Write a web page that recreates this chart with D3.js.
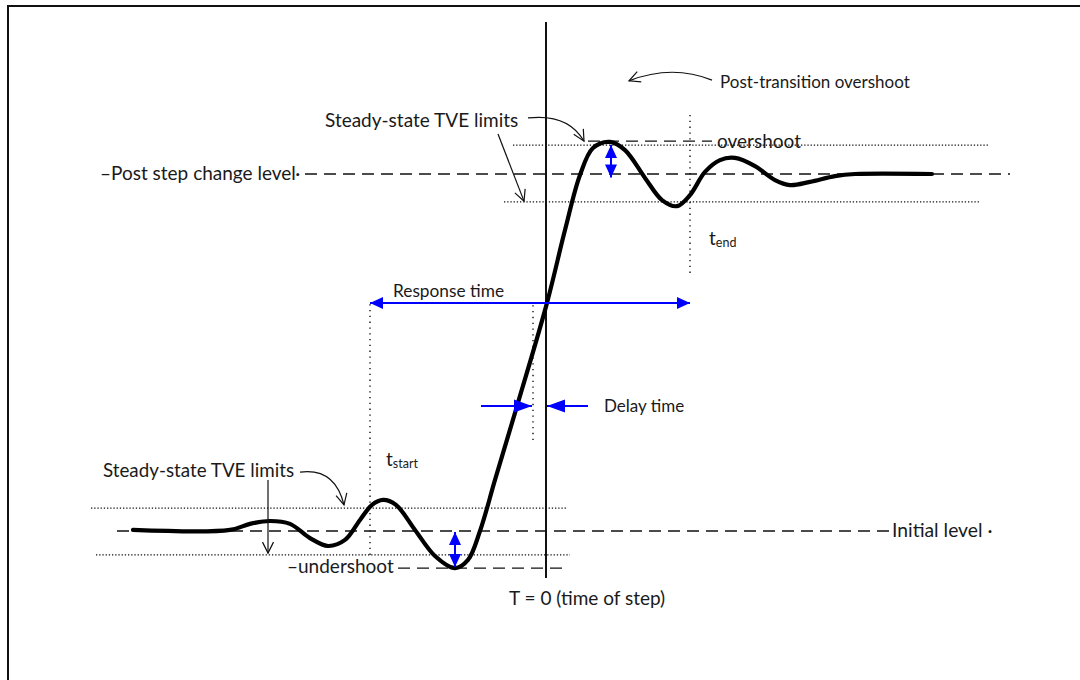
<!DOCTYPE html>
<html>
<head>
<meta charset="utf-8">
<script src="https://cdn.jsdelivr.net/npm/d3@7"></script>
<style>
  body { margin: 0; background: #fff; }
  text { font-family: Lato, "Open Sans", sans-serif; fill: #1a1a1a; }
</style>
</head>
<body>
<svg id="chart" width="1080" height="680"></svg>
<script>
// step response, time in arbitrary units (T = 0 at the step), level 0 = initial, 1 = post step
const curveT = [-20.65, -15.8, -14.8, -13.8, -12.8, -11.8, -10.9, -10.05, -9.3, -8.7, -8.15, -7.5, -6.55,
  -5.55, -4.55, -3.9, -3.3, -2.55, -1.45, 0.05, 0.95, 1.7, 2.35, 3.2, 3.95, 4.95, 5.8, 6.55, 7.2, 7.95,
  8.7, 9.45, 10.45, 11.45, 12.2, 13.2, 14.45, 15.45, 19.3];
const curveV = [0.003, 0.003, 0.02, 0.028, 0.02, -0.02, -0.042, -0.025, 0.031, 0.073, 0.087, 0.073, 0.003,
  -0.07, -0.104, -0.081, 0, 0.143, 0.35, 0.639, 0.843, 0.997, 1.073, 1.09, 1.067, 0.989, 0.927, 0.91, 0.941, 1.006,
  1.039, 1.045, 1.022, 0.983, 0.969, 0.978, 0.994, 1.0, 1.0];

// horizontal reference levels
const levelNames = ["post", "upperHi", "upperLo", "overshoot", "initial", "lowerHi", "lowerLo", "undershoot"];
const levelValues = [1, 1.081, 0.922, 1.092, 0, 0.064, -0.067, -0.104];
const levelFrom = [-12.05, -1.65, -2.1, 2.1, -21.45, -22.75, -22.5, -7.4];
const levelTo = [23.2, 22.1, 21.7, 8.3, 17.2, 1.0, 1.2, 0.95];

// vertical time markers
const markerNames = ["step", "tStart", "tEnd", "delay"];
const markerT = [0, -8.8, 7.2, -0.65];
const markerFrom = [-0.132, -0.067, 0.723, 0.255];
const markerTo = [1.426, 0.647, 1.174, 0.639];

// blue measurement arrows: [t, v] start and end
const spanNames = ["response", "delayLeft", "delayRight", "overshoot", "undershoot"];
const spanStart = [[-8.8, 0.639], [-3.25, 0.35], [2.1, 0.35], [3.25, 1.081], [-4.55, -0.003]];
const spanEnd = [[7.2, 0.639], [-0.7, 0.35], [0.05, 0.35], [3.25, 0.99], [-4.55, -0.101]];
const spanBoth = [true, false, false, true, true];

// black pointer arrows: start, control (null = straight), end
const pointerStart = [[8.3, 1.263], [-0.9, 1.157], [-2.4, 1.112], [-12.3, 0.165], [-13.9, 0.143]];
const pointerCtrl = [[6.3, 1.308], [1.1, 1.17], null, [-10.55, 0.178], null];
const pointerEnd = [[4.15, 1.261], [1.9, 1.092], [-1.1, 0.924], [-10.1, 0.073], [-13.9, -0.062]];

// labels
const labelTexts = ["Post-transition overshoot", "Steady-state TVE limits", "overshoot", "\u2013Post step change level\u00b7",
  "Response time", "Delay time", "Steady-state TVE limits", "\u2013undershoot", "Initial level \u00b7", "T = 0 (time of step)"];
const labelT = [8.7, -11.05, 8.55, -22.3, -7.65, 2.9, -22.15, -12.95, 17.3, -1.85];
const labelV = [1.241, 1.132, 1.073, 0.983, 0.655, 0.333, 0.151, -0.118, -0.017, -0.207];

const subLabels = ["end", "start"];
const subT = [8.15, -8.0];
const subV = [0.801, 0.182];

const W = 1080, H = 680;
const labelSizes = [17, 19, 19, 19, 17.3, 17, 18.8, 19, 19.3, 19];
const svg = d3.select("#chart");

const x = d3.scaleLinear().domain([-27, 27]).range([6, 1086]);
const y = d3.scaleLinear().domain([0, 1]).range([531, 174]);

const blue = "#0000ff";
const defs = svg.append("defs");
function blueMarker(id, len, half) {
  defs.append("marker").attr("id", id)
    .attr("viewBox", `${-len - 1} ${-half - 1} ${len + 2} ${2 * half + 2}`)
    .attr("refX", 0).attr("refY", 0)
    .attr("markerUnits", "userSpaceOnUse")
    .attr("markerWidth", len + 2).attr("markerHeight", 2 * half + 2)
    .attr("orient", "auto-start-reverse")
    .append("path").attr("d", `M${-len},${-half}L0,0L${-len},${half}Z`).attr("fill", blue);
}
blueMarker("blueHead", 13, 6);
blueMarker("blueBig", 18, 6.5);

defs.append("marker").attr("id", "blackHead")
  .attr("viewBox", "-13 -7 15 14").attr("refX", 0).attr("refY", 0)
  .attr("markerUnits", "userSpaceOnUse").attr("markerWidth", 15).attr("markerHeight", 14)
  .attr("orient", "auto")
  .append("path").attr("d", "M-11,-5.5L0,0L-11,5.5").attr("fill", "none").attr("stroke", "#111").attr("stroke-width", 1.2);

// frame
svg.append("path").attr("d", `M8,${H}V6H${W}`).attr("fill", "none").attr("stroke", "#111").attr("stroke-width", 2);

// reference levels
const dashed = new Set(["post", "overshoot", "initial", "undershoot"]);
levelNames.forEach((name, i) => {
  svg.append("line")
    .attr("x1", x(levelFrom[i])).attr("x2", x(levelTo[i]))
    .attr("y1", y(levelValues[i])).attr("y2", y(levelValues[i]))
    .attr("stroke", "#111")
    .attr("stroke-width", dashed.has(name) ? 1.3 : 1.4)
    .attr("stroke-dasharray", dashed.has(name) ? "12,7" : "1.3,1.9");
});

// vertical markers
markerNames.forEach((name, i) => {
  svg.append("line")
    .attr("x1", x(markerT[i])).attr("x2", x(markerT[i]))
    .attr("y1", y(markerFrom[i])).attr("y2", y(markerTo[i]))
    .attr("stroke", "#111")
    .attr("stroke-width", name === "step" ? 2 : 1.4)
    .attr("stroke-dasharray", name === "step" ? null : "1.3,4.5");
});

// the response curve
const line = d3.line().x(d => x(d[0])).y(d => y(d[1])).curve(d3.curveCatmullRom.alpha(0.5));
svg.append("path")
  .attr("d", line(curveT.map((t, i) => [t, curveV[i]])))
  .attr("fill", "none").attr("stroke", "#000").attr("stroke-width", 4.2)
  .attr("stroke-linecap", "round").attr("stroke-linejoin", "round");

// blue arrows
spanNames.forEach((name, i) => {
  const head = name.startsWith("delay") ? "url(#blueBig)" : "url(#blueHead)";
  svg.append("line")
    .attr("x1", x(spanStart[i][0])).attr("y1", y(spanStart[i][1]))
    .attr("x2", x(spanEnd[i][0])).attr("y2", y(spanEnd[i][1]))
    .attr("stroke", blue).attr("stroke-width", 2)
    .attr("marker-end", head)
    .attr("marker-start", spanBoth[i] ? head : null);
});

// black pointers
pointerStart.forEach((s, i) => {
  const c = pointerCtrl[i], e = pointerEnd[i];
  const p = d3.path();
  p.moveTo(x(s[0]), y(s[1]));
  if (c) p.quadraticCurveTo(x(c[0]), y(c[1]), x(e[0]), y(e[1]));
  else p.lineTo(x(e[0]), y(e[1]));
  svg.append("path").attr("d", p.toString())
    .attr("fill", "none").attr("stroke", "#111").attr("stroke-width", 1.2)
    .attr("marker-end", "url(#blackHead)");
});

// labels
labelTexts.forEach((txt, i) => {
  svg.append("text")
    .attr("x", x(labelT[i])).attr("y", y(labelV[i]))
    .attr("font-size", labelSizes[i])
    .text(txt);
});

subLabels.forEach((sub, i) => {
  const t = svg.append("text")
    .attr("x", x(subT[i])).attr("y", y(subV[i]))
    .attr("font-size", 19);
  t.append("tspan").text("t");
  t.append("tspan").attr("font-size", 12.5).attr("dy", 2).text(sub);
});
</script>
</body>
</html>
